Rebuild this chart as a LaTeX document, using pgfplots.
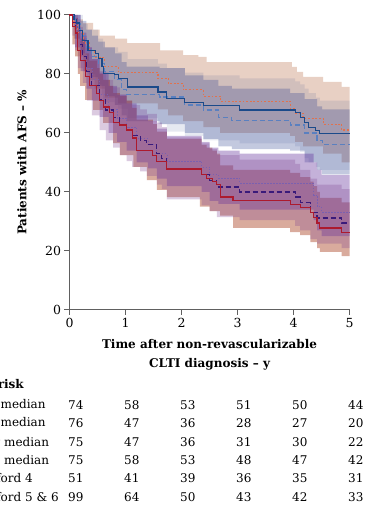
\documentclass[border=0pt]{standalone}
\usepackage{fontspec}
\setmainfont{DejaVu Serif}
\usepackage{pgfplots}
\pgfplotsset{compat=1.18}
\usepgfplotslibrary{fillbetween}
\definecolor{cB1}{HTML}{1B4A8A}
\definecolor{cB2}{HTML}{5A80C0}
\definecolor{cO}{HTML}{E0724E}
\definecolor{cR}{HTML}{AC1A2E}
\definecolor{cP1}{HTML}{3A1A7A}
\definecolor{cP2}{HTML}{7A60B0}
\definecolor{fO}{RGB}{178,98,58}
\definecolor{fB1}{RGB}{50,70,140}
\definecolor{fB2}{RGB}{40,60,140}
\definecolor{fR}{RGB}{160,45,10}
\definecolor{fP1}{RGB}{125,65,145}
\definecolor{fP2}{RGB}{100,50,155}
\begin{document}
\begin{tikzpicture}
\begin{axis}[
  at={(0pt,0pt)}, anchor=south west,
  scale only axis, width=280pt, height=295pt,
  xmin=0, xmax=5, ymin=0, ymax=100,
  axis x line*=bottom, axis y line*=left,
  axis line style={gray!75!black, line width=1pt},
  tick style={gray!75!black, line width=1pt},
  tick align=outside, major tick length=5pt,
  xtick={0,1,2,3,4,5}, ytick={0,20,40,60,80,100},
  /pgf/number format/assume math mode=true,
  tick label style={font=\fontsize{12.5}{14}\selectfont},
  clip=false,
]
% ---- bands ----
\addplot[name path=ou, const plot, draw=none, forget plot] coordinates {(0,100) (0.15,98.5) (0.24,97.3) (0.42,95) (0.54,93) (0.81,92) (1.03,90.5) (1.62,88) (2.03,86.4) (2.3,85.8) (2.45,84) (3.97,82.4) (4.06,80.7) (4.17,79) (4.53,77.3) (4.86,75.6) (5,75.6)};
\addplot[name path=ol, const plot, draw=none, forget plot] coordinates {(0,100) (0.08,92) (0.15,86) (0.25,81) (0.35,78) (0.45,75) (0.63,72) (0.87,70) (1.58,68) (1.76,66) (2.03,64) (2.39,62) (2.69,60) (3.94,59) (4.03,57) (4.17,55.5) (4.53,53) (4.86,50) (5,50)};
\addplot[fill=fO, fill opacity=0.3, draw=none, forget plot] fill between[of=ou and ol];
\addplot[name path=b1u, const plot, draw=none, forget plot] coordinates {(0,100) (0.13,100) (0.24,97) (0.33,95) (0.51,92) (0.6,89) (0.87,87.5) (1.04,85) (1.58,83.5) (1.74,82) (2.06,80.5) (2.39,79.5) (3.04,78.5) (4.03,77.5) (4.12,76.5) (4.2,75) (4.27,73.5) (4.4,72) (4.47,71) (5,71)};
\addplot[name path=b1l, const plot, draw=none, forget plot] coordinates {(0,100) (0.08,95) (0.13,92) (0.18,88) (0.24,84) (0.33,80) (0.46,78.5) (0.51,76.5) (0.58,73) (0.6,70.5) (0.81,69.5) (0.87,68.3) (1.04,65) (1.58,63) (1.74,60.5) (2.06,59) (2.39,57.5) (3.04,56.5) (4.03,55.5) (4.12,53.5) (4.2,51.5) (4.27,50) (4.4,48.5) (4.47,47.5) (5,47.5)};
\addplot[fill=fB1, fill opacity=0.12, draw=none, forget plot] fill between[of=b1u and b1l];
\addplot[name path=b2u, const plot, draw=none, forget plot] coordinates {(0,100) (0.1,100) (0.2,98) (0.3,95) (0.4,93) (0.51,91) (0.63,89) (0.81,87) (0.93,84) (1.02,82.5) (1.61,82) (2.06,79.5) (2.39,78) (2.66,76) (2.9,75) (3.94,73.5) (4.2,71.5) (4.42,69) (4.51,68) (5,68)};
\addplot[name path=b2l, const plot, draw=none, forget plot] coordinates {(0,100) (0.1,92) (0.2,87) (0.3,82) (0.4,79) (0.51,76) (0.63,72.5) (0.81,69.5) (0.93,66) (1.02,64) (1.61,63) (2.06,60) (2.39,58) (2.66,55.5) (2.9,54.5) (3.94,54) (4.2,50) (4.42,47.5) (4.51,46) (5,46)};
\addplot[fill=fB2, fill opacity=0.28, draw=none, forget plot] fill between[of=b2u and b2l];
\addplot[name path=ru, const plot, draw=none, forget plot] coordinates {(0,100) (0.05,100) (0.1,99) (0.15,95) (0.19,92) (0.28,87) (0.35,84.5) (0.49,82) (0.54,80) (0.6,78) (0.72,76) (0.78,73.5) (0.9,72.5) (1.02,71) (1.12,68.5) (1.2,64.5) (1.49,63) (1.56,60.5) (1.74,58) (2.36,56) (2.45,55) (2.55,54) (2.63,53) (2.69,49) (2.92,47.5) (3.94,46.5) (4.12,45) (4.3,43.5) (4.36,42) (4.42,40) (4.47,38) (4.86,36.5) (5,36.5)};
\addplot[name path=rl, const plot, draw=none, forget plot] coordinates {(0,100) (0.05,90) (0.1,86) (0.15,80) (0.19,76) (0.28,71.2) (0.42,67.8) (0.6,63.4) (0.78,56.6) (0.9,52.5) (1.14,48.5) (1.38,44) (1.56,40.7) (1.74,38.3) (2.33,35) (2.5,33.5) (2.69,32) (2.92,27.8) (3.94,26.4) (4.12,25.4) (4.3,23) (4.42,21) (4.47,19.7) (4.86,18.3) (5,18.3)};
\addplot[fill=fR, fill opacity=0.4, draw=none, forget plot] fill between[of=ru and rl];
\addplot[name path=p2u, const plot, draw=none, forget plot] coordinates {(0,100) (0.1,100) (0.2,94) (0.3,89) (0.4,85) (0.54,80.5) (0.7,76) (0.85,73) (1.02,70) (1.2,66) (1.4,64) (1.56,61.5) (1.74,59) (2.36,57) (2.5,55) (2.66,54) (3.04,53) (4.3,53) (4.36,50) (4.42,47.5) (4.5,45.8) (5,45.8)};
\addplot[name path=p2l, const plot, draw=none, forget plot] coordinates {(0,100) (0.1,89) (0.2,81) (0.3,75) (0.4,71) (0.54,65.5) (0.7,60) (0.85,57) (1.02,54) (1.2,50) (1.4,48) (1.56,44.5) (1.74,42) (2.36,40) (2.5,37) (2.66,36) (3.04,34) (4.3,34) (4.36,30.5) (4.42,27) (4.5,25) (5,25)};
\addplot[fill=fP2, fill opacity=0.38, draw=none, forget plot] fill between[of=p2u and p2l];
\addplot[name path=p1u, const plot, draw=none, forget plot] coordinates {(0,100) (0.05,100) (0.1,99) (0.15,96) (0.24,93) (0.31,89) (0.4,85) (0.54,81) (0.65,78) (0.78,75.5) (0.9,73) (1.02,71) (1.12,69.5) (1.26,68) (1.38,66.5) (1.56,63.5) (1.65,62) (1.74,58.5) (2.36,56.5) (2.5,54.5) (2.63,52.5) (3.04,51) (4.03,49.5) (4.12,47.5) (4.3,44.5) (4.42,42.5) (4.86,41) (5,41)};
\addplot[name path=p1l, const plot, draw=none, forget plot] coordinates {(0,100) (0.05,93) (0.1,88) (0.15,82) (0.24,77) (0.31,71) (0.4,66) (0.54,61) (0.65,57.5) (0.78,55) (0.9,52.5) (1.02,50.5) (1.12,48.5) (1.26,47) (1.38,45.5) (1.56,42.5) (1.65,41) (1.74,37.5) (2.36,35.5) (2.5,33.5) (2.63,31.5) (3.04,30.5) (4.03,28.5) (4.12,27) (4.3,24) (4.42,22.5) (4.86,21) (5,21)};
\addplot[fill=fP1, fill opacity=0.28, draw=none, forget plot] fill between[of=p1u and p1l];
% ---- curves ----
\addplot[const plot, cO, line width=1.1pt, dash pattern=on 1.8pt off 1.8pt] coordinates {(0,100) (0.08,97.3) (0.15,94) (0.25,90.5) (0.35,88) (0.45,85.5) (0.63,82.4) (0.87,80.5) (1.58,78.6) (1.76,76.8) (2.03,74.6) (2.39,72.5) (2.69,70.8) (3.94,68.4) (4.03,66.7) (4.17,65) (4.53,63) (4.86,61) (5,61)};
\addplot[const plot, cB2, line width=1.1pt, dash pattern=on 5pt off 3pt] coordinates {(0,100) (0.1,97) (0.2,93) (0.3,89) (0.4,86) (0.51,83.7) (0.63,80.7) (0.81,78) (0.93,74.6) (1.02,72.9) (1.61,72.2) (2.06,69.5) (2.39,67.8) (2.66,65.3) (2.9,64.2) (3.94,62.7) (4.2,60) (4.42,57.6) (4.51,56.2) (5,56.2)};
\addplot[const plot, cB1, line width=1.1pt] coordinates {(0,100) (0.08,98.6) (0.13,97.3) (0.18,94.6) (0.24,91.5) (0.33,88) (0.46,87) (0.51,85.4) (0.58,82.4) (0.6,80.3) (0.81,79.7) (0.87,78.6) (1.04,75.6) (1.58,73.9) (1.74,71.8) (2.06,70.3) (2.39,69.2) (3.04,67.8) (4.03,66.8) (4.12,65.4) (4.2,63.7) (4.27,62) (4.4,60.7) (4.47,59.7) (5,59.7)};
\addplot[const plot, cP2, line width=0.8pt, dash pattern=on 1.3pt off 1.7pt] coordinates {(0,100) (0.1,95) (0.2,88) (0.3,82) (0.4,78) (0.54,73) (0.7,68) (0.85,65) (1.02,62) (1.2,58) (1.4,56) (1.56,53) (1.74,50.5) (2.36,48.5) (2.5,45.8) (2.66,44.7) (3.04,43) (4.3,43) (4.36,39) (4.42,35) (4.5,33.2) (5,33.2)};
\addplot[const plot, cP1, line width=1.1pt, dash pattern=on 5pt off 3pt] coordinates {(0,100) (0.05,97.5) (0.1,94) (0.15,90) (0.24,85.8) (0.31,80.7) (0.4,76) (0.54,71.2) (0.65,67.8) (0.78,65.4) (0.9,63) (1.02,61) (1.12,59.3) (1.26,57.6) (1.38,56) (1.56,53.2) (1.65,51.5) (1.74,48.1) (2.36,45.8) (2.5,44) (2.63,41.7) (3.04,40) (4.03,38.3) (4.12,36.3) (4.3,33.2) (4.42,31.2) (4.86,29.5) (5,29.5)};
\addplot[const plot, cR, line width=1.1pt] coordinates {(0,100) (0.05,96) (0.1,93.9) (0.15,88) (0.19,84.7) (0.28,79) (0.35,76) (0.49,73.5) (0.54,71) (0.6,68.8) (0.72,66.8) (0.78,63.7) (0.9,62.7) (1.02,61) (1.12,58.3) (1.2,54.2) (1.49,52.5) (1.56,50.2) (1.74,47.8) (2.36,45.8) (2.45,44.7) (2.55,43.5) (2.63,42.4) (2.69,38.3) (2.92,37) (3.94,35.9) (4.12,34.6) (4.3,33) (4.36,31.5) (4.42,29.5) (4.47,27.8) (4.86,26.4) (5,26.4)};
\end{axis}
\node[rotate=90, font=\bfseries\fontsize{12}{14}\selectfont] at (-47.5pt,147.5pt) {Patients with AFS – \%};
\node[font=\bfseries\fontsize{12}{19}\selectfont, align=center] at (140pt,-44.5pt) {Time after non-revascularizable\\CLTI diagnosis – y};
\begin{scope}[every node/.style={font=\fontsize{12}{14}\selectfont, inner sep=0pt}]
\node[anchor=east, font=\bfseries\fontsize{12}{14}\selectfont] at (-45.5pt,-74pt) {Number at risk};
\node[anchor=west] at (-69pt,-95pt) {\llap{Age above }median};
\node[anchor=west] at (-69pt,-113pt) {\llap{Age below }median};
\node[anchor=west] at (-65.5pt,-132pt) {\llap{eGFR below }median};
\node[anchor=west] at (-65.5pt,-150pt) {\llap{eGFR above }median};
\node[anchor=west] at (-69pt,-168pt) {\llap{Rutherf}ord 4};
\node[anchor=west] at (-69pt,-187pt) {\llap{Rutherf}ord 5 \& 6};
\foreach \y/\a/\b/\c/\d/\e/\f in {-95/74/58/53/51/50/44, -113/76/47/36/28/27/20, -132/75/47/36/31/30/22, -150/75/58/53/48/47/42, -168/51/41/39/36/35/31, -187/99/64/50/43/42/33}{
  \node[anchor=west] at (-1.5pt,\y pt) {\a};
  \node[anchor=west] at (54.5pt,\y pt) {\b};
  \node[anchor=west] at (110.5pt,\y pt) {\c};
  \node[anchor=west] at (166.5pt,\y pt) {\d};
  \node[anchor=west] at (222.5pt,\y pt) {\e};
  \node[anchor=west] at (278.5pt,\y pt) {\f};
}
\end{scope}
\pgfresetboundingbox
\useasboundingbox (-69.5pt,-198pt) rectangle (294.5pt,310pt);
\end{tikzpicture}
\end{document}
